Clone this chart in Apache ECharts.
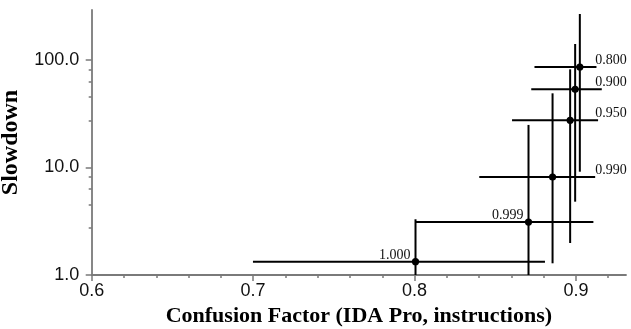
<!DOCTYPE html>
<html>
<head>
<meta charset="utf-8">
<script src="https://cdn.jsdelivr.net/npm/echarts@6/dist/echarts.min.js"></script>
<style>
html,body{margin:0;padding:0;background:#fff;}
#chart{width:631px;height:329px;}
</style>
</head>
<body>
<div id="chart"></div>
<script>
// ---- data ----
const categories = ['0.800', '0.900', '0.950', '0.990', '0.999', '1.000'];
const xValues = [0.9024, 0.8995, 0.8964, 0.8855, 0.8706, 0.8006];
const xLow    = [0.8743, 0.8723, 0.8604, 0.8401, 0.8004, 0.6999];
const xHigh   = [0.9127, 0.9160, 0.9137, 0.9119, 0.9108, 0.8808];
const yValues = [86.1, 53.4, 27.5, 8.16, 3.11, 1.33];
const yLow    = [9.14, 4.81, 1.985, 1.285, 0.8, 0.6];
const yHigh   = [268, 141, 81.9, 49.0, 24.9, 3.3];
const labelSide = ['right', 'right', 'right', 'right', 'left', 'left'];

const xMajorTicks = [0.6, 0.7, 0.8, 0.9];
const xMinorTicks = [0.62, 0.64, 0.66, 0.68, 0.72, 0.74, 0.76, 0.78, 0.82, 0.84, 0.86, 0.88, 0.92];
const yMajorTicks = [1, 10, 100];
const yMinorTicks = [2.75, 4.53, 6.29, 8.18, 27.5, 45.3, 62.9, 81.8];

const X_MIN = 0.6, X_MAX = 0.931, Y_MIN = 1, Y_MAX = 292;
const LABEL_X = 0.912;

const rows = categories.map((c, i) => [xValues[i], yValues[i], xLow[i], xHigh[i], yLow[i], yHigh[i], i]);

const chart = echarts.init(document.getElementById('chart'), null, {renderer: 'canvas'});
const axisColor = '#7a7a7a';
const tickFont = {fontFamily: 'Liberation Sans', fontSize: 18, color: '#111'};

chart.setOption({
  animation: false,
  backgroundColor: '#fff',
  grid: {left: 91.7, right: 5, top: 10, bottom: 54, containLabel: false, outerBoundsMode: 'none'},
  xAxis: [{
    type: 'value', min: X_MIN, max: X_MAX, position: 'bottom',
    name: 'Confusion Factor (IDA Pro, instructions)',
    nameLocation: 'middle', nameGap: 23,
    nameTextStyle: {fontFamily: 'Liberation Serif', fontWeight: 'bold', fontSize: 22, color: '#000'},
    axisLine: {show: true, lineStyle: {color: axisColor, width: 1.8}},
    axisTick: {show: true, length: 6, customValues: xMajorTicks, lineStyle: {color: axisColor, width: 1.5}},
    axisLabel: Object.assign({customValues: xMajorTicks, margin: 7, formatter: v => Number(v).toFixed(1)}, tickFont),
    splitLine: {show: false}
  }, {
    type: 'value', min: X_MIN, max: X_MAX, position: 'bottom',
    axisLine: {show: false},
    axisTick: {show: true, length: 3, customValues: xMinorTicks, lineStyle: {color: axisColor, width: 1.5}},
    axisLabel: {show: false},
    splitLine: {show: false}
  }],
  yAxis: [{
    type: 'log', logBase: 10, min: Y_MIN, max: Y_MAX, position: 'left',
    name: 'Slowdown', nameLocation: 'middle', nameGap: 59, nameRotate: 90,
    nameTextStyle: {fontFamily: 'Liberation Serif', fontWeight: 'bold', fontSize: 24, color: '#000'},
    axisLine: {show: true, lineStyle: {color: axisColor, width: 1.8}},
    axisTick: {show: true, length: 6, customValues: yMajorTicks, lineStyle: {color: axisColor, width: 1.5}},
    axisLabel: Object.assign({customValues: yMajorTicks, margin: 12.5, formatter: v => Number(v).toFixed(1)}, tickFont),
    splitLine: {show: false}
  }, {
    type: 'log', logBase: 10, min: Y_MIN, max: Y_MAX, position: 'left',
    axisLine: {show: false},
    axisTick: {show: true, length: 3, customValues: yMinorTicks, lineStyle: {color: axisColor, width: 1.5}},
    axisLabel: {show: false},
    splitLine: {show: false}
  }],
  series: [{
    type: 'custom',
    xAxisIndex: 0, yAxisIndex: 0,
    clip: true,
    encode: {x: [0, 2, 3], y: [1, 4, 5]},
    data: rows,
    renderItem: function (params, api) {
      const cs = params.coordSys;
      const bottom = cs.y + cs.height;
      const x = api.value(0), y = api.value(1);
      const i = api.value(6);
      const c = api.coord([x, y]);
      const hl = api.coord([api.value(2), y]);
      const hr = api.coord([api.value(3), y]);
      const vt = api.coord([x, api.value(5)]);
      const vb = api.coord([x, api.value(4)]);
      const lineStyle = {stroke: '#000', lineWidth: 2};
      let label;
      if (labelSide[i] === 'right') {
        const lp = api.coord([LABEL_X, y]);
        label = {type: 'text', x: lp[0], y: lp[1] + 0.5,
          style: {text: categories[i], font: '14px "Liberation Serif"', fill: '#111', textAlign: 'left', textVerticalAlign: 'bottom'}};
      } else {
        label = {type: 'text', x: c[0] - 5, y: c[1] + 0.5,
          style: {text: categories[i], font: '14px "Liberation Serif"', fill: '#111', textAlign: 'right', textVerticalAlign: 'bottom'}};
      }
      return {
        type: 'group',
        children: [
          {type: 'line', shape: {x1: hl[0], y1: hl[1], x2: hr[0], y2: hr[1]}, style: lineStyle},
          {type: 'line', shape: {x1: vt[0], y1: vt[1], x2: vb[0], y2: Math.min(vb[1], bottom)}, style: lineStyle},
          {type: 'circle', shape: {cx: c[0], cy: c[1], r: 3.6}, style: {fill: '#000'}},
          label
        ]
      };
    }
  }]
});
</script>
</body>
</html>
